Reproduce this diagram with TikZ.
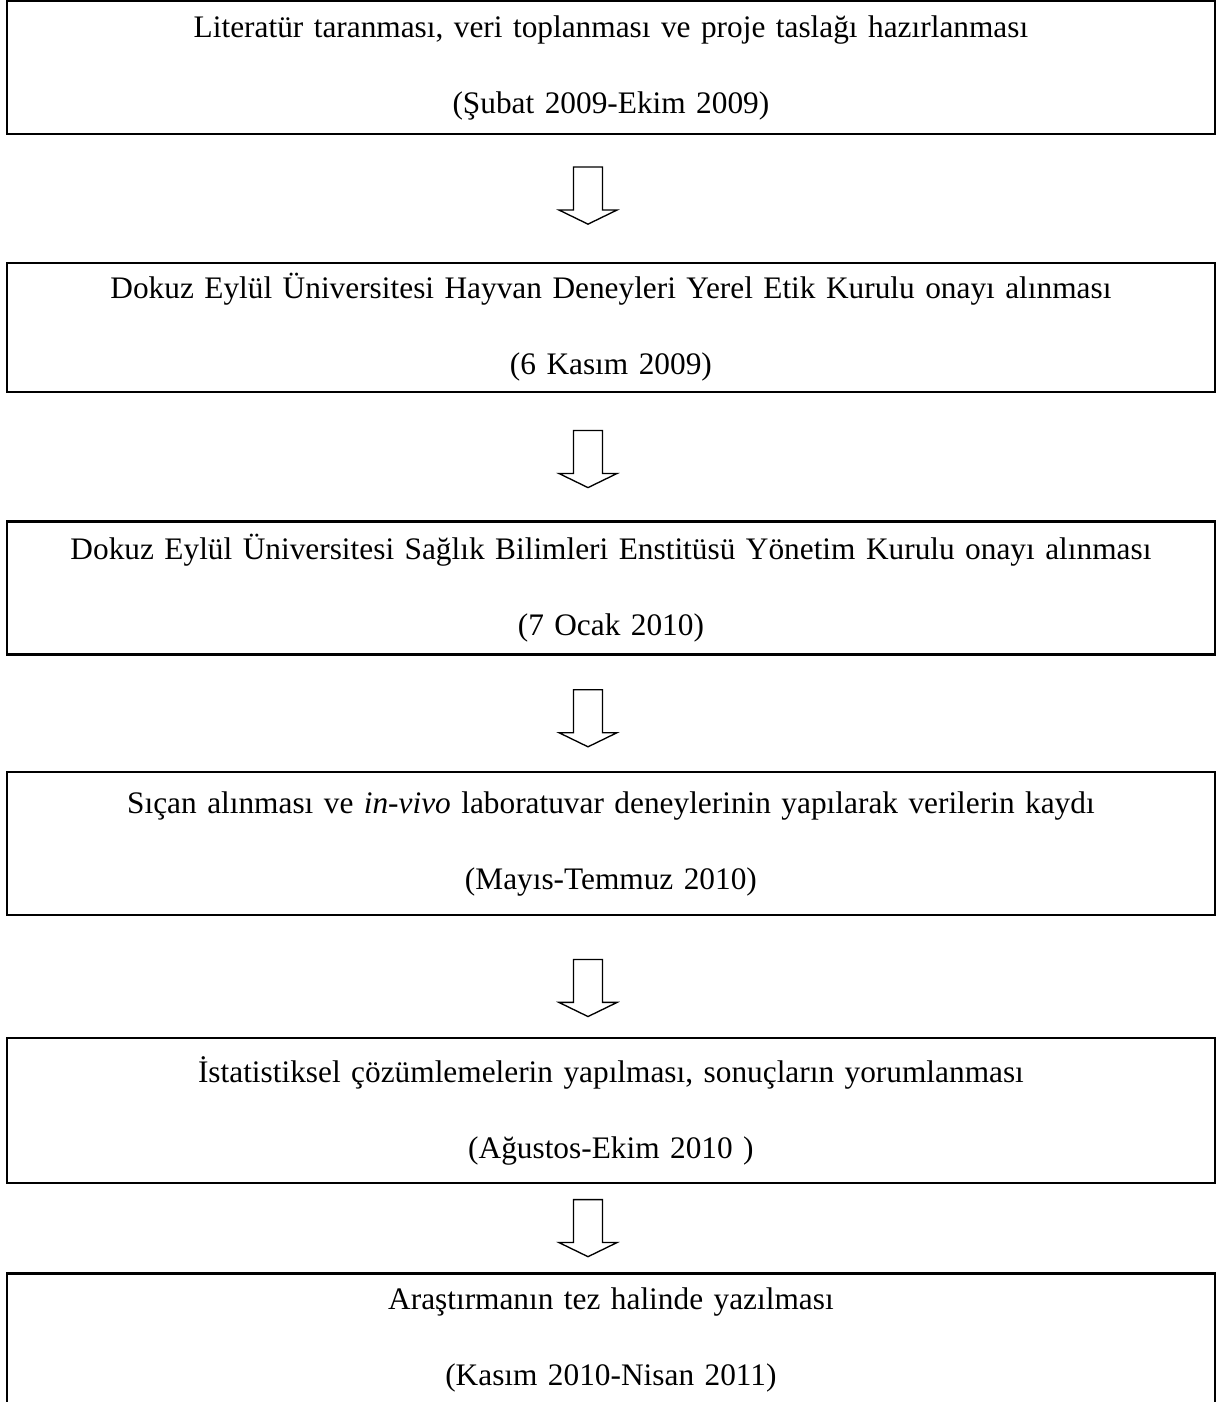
\documentclass[tikz,border=0pt]{standalone}
\usepackage{fontspec}
\setmainfont{Liberation Serif}
\usetikzlibrary{calc, positioning}

\tikzset{
  stepbox/.style={draw, line width=1pt, inner sep=0pt, text width=453pt,
    align=center, font=\fontsize{11.75pt}{28.5pt}\selectfont},
  downarr/.pic={
    \draw[line width=0.5pt, line join=miter]
      (-5.45pt,0) -- (-5.45pt,-16.1pt) -- (-10.9pt,-16.1pt) -- (0,-21.4pt)
      -- (10.9pt,-16.1pt) -- (5.45pt,-16.1pt) -- (5.45pt,0) -- cycle;
  }
}

\begin{document}
\begin{tikzpicture}

		\clip (0,0) rectangle (458.25pt,-525.75pt);

		% boxes %
		\node[stepbox, minimum height=49.9pt] (b1) at (229.1pt,-25.3pt)
			{Literatür taranması, veri toplanması ve proje taslağı hazırlanması\\(Şubat 2009-Ekim 2009)};
		\node[stepbox, minimum height=48.4pt, below=47.4pt of b1] (b2)
			{Dokuz Eylül Üniversitesi Hayvan Deneyleri Yerel Etik Kurulu onayı alınması\\(6 Kasım 2009)};
		\node[stepbox, minimum height=49.9pt, below=47.4pt of b2] (b3)
			{Dokuz Eylül Üniversitesi Sağlık Bilimleri Enstitüsü Yönetim Kurulu onayı alınması\\(7 Ocak 2010)};
		\node[stepbox, minimum height=53.6pt, below=43.2pt of b3] (b4)
			{Sıçan alınması ve \textit{in-vivo} laboratuvar deneylerinin yapılarak verilerin kaydı\\(Mayıs-Temmuz 2010)};
		\node[stepbox, minimum height=54.4pt, below=45.1pt of b4] (b5)
			{İstatistiksel çözümlemelerin yapılması, sonuçların yorumlanması\\(Ağustos-Ekim 2010 )};
		\node[stepbox, minimum height=49.9pt, below=32.8pt of b5] (b6)
			{Araştırmanın tez halinde yazılması\\(Kasım 2010-Nisan 2011)};

		% arrows (top of each block arrow) %
		\coordinate (a1) at ($(b1.south)!0.5!(b2.north)+(-8.6pt,11.8pt)$);
		\coordinate (a2) at ($(b2.south)!0.5!(b3.north)+(-8.6pt,9.8pt)$);
		\coordinate (a3) at ($(b3.south)!0.5!(b4.north)+(-8.6pt,8.8pt)$);
		\coordinate (a4) at ($(b4.south)!0.5!(b5.north)+(-8.6pt,6.4pt)$);
		\coordinate (a5) at ($(b5.south)!0.5!(b6.north)+(-8.6pt,10.7pt)$);
		\foreach \a in {a1,a2,a3,a4,a5}
			\pic at (\a) {downarr};
\end{tikzpicture}
\end{document}
